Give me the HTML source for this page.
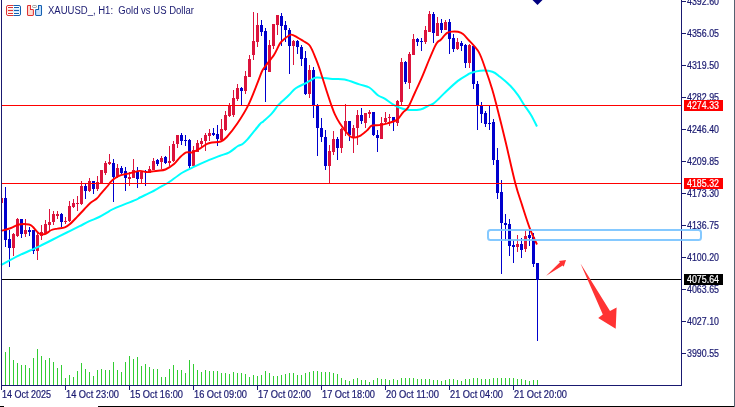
<!DOCTYPE html><html><head><meta charset="utf-8"><style>html,body{margin:0;padding:0;background:#fff;overflow:hidden}svg{display:block;will-change:transform}text{font-family:"Liberation Sans",sans-serif}</style></head><body>
<svg width="735" height="407" viewBox="0 0 735 407">
<rect x="0" y="0" width="735" height="407" fill="#fff"/>
<defs><clipPath id="chartclip"><rect x="2" y="0" width="679" height="385"/></clipPath></defs>
<g fill="#32CD32" shape-rendering="crispEdges"><rect x="5" y="352" width="1" height="33"/><rect x="9" y="347" width="1" height="38"/><rect x="13" y="360" width="1" height="25"/><rect x="17" y="363" width="1" height="22"/><rect x="21" y="365" width="1" height="20"/><rect x="25" y="365" width="1" height="20"/><rect x="29" y="368" width="1" height="17"/><rect x="33" y="358" width="1" height="27"/><rect x="37" y="349" width="1" height="36"/><rect x="41" y="356" width="1" height="29"/><rect x="45" y="360" width="1" height="25"/><rect x="49" y="358" width="1" height="27"/><rect x="53" y="362" width="1" height="23"/><rect x="57" y="368" width="1" height="17"/><rect x="61" y="365" width="1" height="20"/><rect x="65" y="378" width="1" height="7"/><rect x="69" y="375" width="1" height="10"/><rect x="73" y="377" width="1" height="8"/><rect x="77" y="371" width="1" height="14"/><rect x="81" y="363" width="1" height="22"/><rect x="85" y="369" width="1" height="16"/><rect x="89" y="372" width="1" height="13"/><rect x="93" y="376" width="1" height="9"/><rect x="97" y="370" width="1" height="15"/><rect x="101" y="369" width="1" height="16"/><rect x="105" y="370" width="1" height="15"/><rect x="109" y="370" width="1" height="15"/><rect x="113" y="362" width="1" height="23"/><rect x="117" y="370" width="1" height="15"/><rect x="121" y="372" width="1" height="13"/><rect x="125" y="362" width="1" height="23"/><rect x="129" y="356" width="1" height="29"/><rect x="133" y="359" width="1" height="26"/><rect x="137" y="357" width="1" height="28"/><rect x="141" y="366" width="1" height="19"/><rect x="145" y="364" width="1" height="21"/><rect x="149" y="367" width="1" height="18"/><rect x="153" y="369" width="1" height="16"/><rect x="157" y="369" width="1" height="16"/><rect x="161" y="377" width="1" height="8"/><rect x="165" y="377" width="1" height="8"/><rect x="169" y="369" width="1" height="16"/><rect x="173" y="365" width="1" height="20"/><rect x="177" y="370" width="1" height="15"/><rect x="181" y="370" width="1" height="15"/><rect x="185" y="373" width="1" height="12"/><rect x="189" y="360" width="1" height="25"/><rect x="193" y="364" width="1" height="21"/><rect x="197" y="370" width="1" height="15"/><rect x="201" y="372" width="1" height="13"/><rect x="205" y="370" width="1" height="15"/><rect x="209" y="371" width="1" height="14"/><rect x="213" y="371" width="1" height="14"/><rect x="217" y="371" width="1" height="14"/><rect x="221" y="373" width="1" height="12"/><rect x="225" y="373" width="1" height="12"/><rect x="229" y="374" width="1" height="11"/><rect x="233" y="372" width="1" height="13"/><rect x="237" y="373" width="1" height="12"/><rect x="241" y="373" width="1" height="12"/><rect x="245" y="374" width="1" height="11"/><rect x="249" y="377" width="1" height="8"/><rect x="253" y="375" width="1" height="10"/><rect x="257" y="376" width="1" height="9"/><rect x="261" y="375" width="1" height="10"/><rect x="265" y="371" width="1" height="14"/><rect x="269" y="373" width="1" height="12"/><rect x="273" y="376" width="1" height="9"/><rect x="277" y="376" width="1" height="9"/><rect x="281" y="375" width="1" height="10"/><rect x="285" y="374" width="1" height="11"/><rect x="289" y="373" width="1" height="12"/><rect x="293" y="373" width="1" height="12"/><rect x="297" y="375" width="1" height="10"/><rect x="301" y="375" width="1" height="10"/><rect x="305" y="373" width="1" height="12"/><rect x="309" y="372" width="1" height="13"/><rect x="313" y="371" width="1" height="14"/><rect x="317" y="371" width="1" height="14"/><rect x="321" y="372" width="1" height="13"/><rect x="325" y="372" width="1" height="13"/><rect x="329" y="372" width="1" height="13"/><rect x="333" y="373" width="1" height="12"/><rect x="337" y="374" width="1" height="11"/><rect x="341" y="378" width="1" height="7"/><rect x="345" y="380" width="1" height="5"/><rect x="349" y="381" width="1" height="4"/><rect x="353" y="379" width="1" height="6"/><rect x="357" y="378" width="1" height="7"/><rect x="361" y="380" width="1" height="5"/><rect x="365" y="380" width="1" height="5"/><rect x="369" y="382" width="1" height="3"/><rect x="373" y="380" width="1" height="5"/><rect x="377" y="378" width="1" height="7"/><rect x="381" y="379" width="1" height="6"/><rect x="385" y="379" width="1" height="6"/><rect x="389" y="380" width="1" height="5"/><rect x="393" y="379" width="1" height="6"/><rect x="397" y="380" width="1" height="5"/><rect x="401" y="378" width="1" height="7"/><rect x="405" y="378" width="1" height="7"/><rect x="409" y="378" width="1" height="7"/><rect x="413" y="378" width="1" height="7"/><rect x="417" y="379" width="1" height="6"/><rect x="421" y="379" width="1" height="6"/><rect x="425" y="379" width="1" height="6"/><rect x="429" y="379" width="1" height="6"/><rect x="433" y="380" width="1" height="5"/><rect x="437" y="380" width="1" height="5"/><rect x="441" y="381" width="1" height="4"/><rect x="445" y="380" width="1" height="5"/><rect x="449" y="379" width="1" height="6"/><rect x="453" y="379" width="1" height="6"/><rect x="457" y="380" width="1" height="5"/><rect x="461" y="381" width="1" height="4"/><rect x="465" y="379" width="1" height="6"/><rect x="469" y="379" width="1" height="6"/><rect x="473" y="378" width="1" height="7"/><rect x="477" y="378" width="1" height="7"/><rect x="481" y="379" width="1" height="6"/><rect x="485" y="379" width="1" height="6"/><rect x="489" y="379" width="1" height="6"/><rect x="493" y="378" width="1" height="7"/><rect x="497" y="378" width="1" height="7"/><rect x="501" y="378" width="1" height="7"/><rect x="505" y="378" width="1" height="7"/><rect x="509" y="378" width="1" height="7"/><rect x="513" y="378" width="1" height="7"/><rect x="517" y="379" width="1" height="6"/><rect x="521" y="379" width="1" height="6"/><rect x="525" y="380" width="1" height="5"/><rect x="529" y="381" width="1" height="4"/><rect x="533" y="380" width="1" height="5"/><rect x="537" y="380" width="1" height="5"/></g>
<g shape-rendering="crispEdges">
<rect x="2" y="279" width="679" height="1" fill="#000000"/>
</g>
<g shape-rendering="crispEdges" clip-path="url(#chartclip)"><rect x="1" y="195" width="1" height="11" fill="#DC143C"/><rect x="0" y="198" width="3" height="5" fill="#DC143C"/><rect x="5" y="187" width="1" height="60" fill="#0000CD"/><rect x="4" y="198" width="3" height="42" fill="#0000CD"/><rect x="9" y="230" width="1" height="37" fill="#0000CD"/><rect x="8" y="239" width="3" height="9" fill="#0000CD"/><rect x="13" y="233" width="1" height="23" fill="#DC143C"/><rect x="12" y="234" width="3" height="14" fill="#DC143C"/><rect x="17" y="218" width="1" height="19" fill="#DC143C"/><rect x="16" y="219" width="3" height="17" fill="#DC143C"/><rect x="21" y="219" width="1" height="19" fill="#0000CD"/><rect x="20" y="219" width="3" height="15" fill="#0000CD"/><rect x="25" y="219" width="1" height="18" fill="#DC143C"/><rect x="24" y="230" width="3" height="4" fill="#DC143C"/><rect x="29" y="227" width="1" height="9" fill="#0000CD"/><rect x="28" y="230" width="3" height="2" fill="#0000CD"/><rect x="33" y="230" width="1" height="24" fill="#0000CD"/><rect x="32" y="230" width="3" height="21" fill="#0000CD"/><rect x="37" y="233" width="1" height="27" fill="#DC143C"/><rect x="36" y="235" width="3" height="16" fill="#DC143C"/><rect x="41" y="225" width="1" height="15" fill="#DC143C"/><rect x="40" y="232" width="3" height="4" fill="#DC143C"/><rect x="45" y="220" width="1" height="14" fill="#DC143C"/><rect x="44" y="224" width="3" height="9" fill="#DC143C"/><rect x="49" y="209" width="1" height="23" fill="#DC143C"/><rect x="48" y="222" width="3" height="3" fill="#DC143C"/><rect x="53" y="211" width="1" height="14" fill="#DC143C"/><rect x="52" y="214" width="3" height="8" fill="#DC143C"/><rect x="57" y="211" width="1" height="8" fill="#DC143C"/><rect x="56" y="214" width="3" height="2" fill="#DC143C"/><rect x="61" y="213" width="1" height="14" fill="#0000CD"/><rect x="60" y="214" width="3" height="8" fill="#0000CD"/><rect x="65" y="217" width="1" height="7" fill="#DC143C"/><rect x="64" y="221" width="3" height="1" fill="#DC143C"/><rect x="69" y="201" width="1" height="21" fill="#DC143C"/><rect x="68" y="206" width="3" height="15" fill="#DC143C"/><rect x="73" y="199" width="1" height="9" fill="#DC143C"/><rect x="72" y="203" width="3" height="4" fill="#DC143C"/><rect x="77" y="196" width="1" height="15" fill="#DC143C"/><rect x="76" y="203" width="3" height="1" fill="#DC143C"/><rect x="81" y="181" width="1" height="24" fill="#DC143C"/><rect x="80" y="186" width="3" height="18" fill="#DC143C"/><rect x="85" y="184" width="1" height="15" fill="#0000CD"/><rect x="84" y="186" width="3" height="5" fill="#0000CD"/><rect x="89" y="178" width="1" height="14" fill="#DC143C"/><rect x="88" y="181" width="3" height="10" fill="#DC143C"/><rect x="93" y="181" width="1" height="13" fill="#0000CD"/><rect x="92" y="181" width="3" height="8" fill="#0000CD"/><rect x="97" y="176" width="1" height="15" fill="#DC143C"/><rect x="96" y="182" width="3" height="7" fill="#DC143C"/><rect x="101" y="170" width="1" height="13" fill="#DC143C"/><rect x="100" y="170" width="3" height="13" fill="#DC143C"/><rect x="105" y="161" width="1" height="14" fill="#DC143C"/><rect x="104" y="163" width="3" height="10" fill="#DC143C"/><rect x="109" y="154" width="1" height="11" fill="#DC143C"/><rect x="108" y="162" width="3" height="2" fill="#DC143C"/><rect x="113" y="159" width="1" height="43" fill="#0000CD"/><rect x="112" y="163" width="3" height="14" fill="#0000CD"/><rect x="117" y="164" width="1" height="14" fill="#DC143C"/><rect x="116" y="168" width="3" height="9" fill="#DC143C"/><rect x="121" y="166" width="1" height="8" fill="#0000CD"/><rect x="120" y="168" width="3" height="5" fill="#0000CD"/><rect x="125" y="167" width="1" height="24" fill="#0000CD"/><rect x="124" y="171" width="3" height="7" fill="#0000CD"/><rect x="129" y="172" width="1" height="14" fill="#DC143C"/><rect x="128" y="177" width="3" height="2" fill="#DC143C"/><rect x="133" y="159" width="1" height="19" fill="#DC143C"/><rect x="132" y="170" width="3" height="8" fill="#DC143C"/><rect x="137" y="167" width="1" height="21" fill="#0000CD"/><rect x="136" y="172" width="3" height="7" fill="#0000CD"/><rect x="141" y="171" width="1" height="12" fill="#DC143C"/><rect x="140" y="172" width="3" height="7" fill="#DC143C"/><rect x="145" y="170" width="1" height="16" fill="#0000CD"/><rect x="144" y="171" width="3" height="1" fill="#0000CD"/><rect x="149" y="166" width="1" height="7" fill="#DC143C"/><rect x="148" y="169" width="3" height="4" fill="#DC143C"/><rect x="153" y="158" width="1" height="12" fill="#DC143C"/><rect x="152" y="161" width="3" height="9" fill="#DC143C"/><rect x="157" y="159" width="1" height="7" fill="#0000CD"/><rect x="156" y="160" width="3" height="4" fill="#0000CD"/><rect x="161" y="156" width="1" height="13" fill="#DC143C"/><rect x="160" y="158" width="3" height="4" fill="#DC143C"/><rect x="165" y="156" width="1" height="8" fill="#0000CD"/><rect x="164" y="157" width="3" height="6" fill="#0000CD"/><rect x="169" y="146" width="1" height="20" fill="#DC143C"/><rect x="168" y="161" width="3" height="2" fill="#DC143C"/><rect x="173" y="141" width="1" height="21" fill="#DC143C"/><rect x="172" y="144" width="3" height="17" fill="#DC143C"/><rect x="177" y="135" width="1" height="13" fill="#DC143C"/><rect x="176" y="135" width="3" height="9" fill="#DC143C"/><rect x="181" y="133" width="1" height="12" fill="#0000CD"/><rect x="180" y="135" width="3" height="6" fill="#0000CD"/><rect x="185" y="135" width="1" height="11" fill="#0000CD"/><rect x="184" y="140" width="3" height="1" fill="#0000CD"/><rect x="189" y="139" width="1" height="29" fill="#0000CD"/><rect x="188" y="140" width="3" height="26" fill="#0000CD"/><rect x="193" y="146" width="1" height="20" fill="#DC143C"/><rect x="192" y="150" width="3" height="16" fill="#DC143C"/><rect x="197" y="140" width="1" height="12" fill="#DC143C"/><rect x="196" y="143" width="3" height="9" fill="#DC143C"/><rect x="201" y="138" width="1" height="9" fill="#DC143C"/><rect x="200" y="141" width="3" height="3" fill="#DC143C"/><rect x="205" y="133" width="1" height="18" fill="#DC143C"/><rect x="204" y="135" width="3" height="6" fill="#DC143C"/><rect x="209" y="129" width="1" height="12" fill="#DC143C"/><rect x="208" y="133" width="3" height="3" fill="#DC143C"/><rect x="213" y="128" width="1" height="8" fill="#0000CD"/><rect x="212" y="133" width="3" height="2" fill="#0000CD"/><rect x="217" y="125" width="1" height="21" fill="#0000CD"/><rect x="216" y="134" width="3" height="5" fill="#0000CD"/><rect x="221" y="119" width="1" height="22" fill="#DC143C"/><rect x="220" y="129" width="3" height="11" fill="#DC143C"/><rect x="225" y="111" width="1" height="20" fill="#DC143C"/><rect x="224" y="115" width="3" height="15" fill="#DC143C"/><rect x="229" y="103" width="1" height="14" fill="#DC143C"/><rect x="228" y="106" width="3" height="10" fill="#DC143C"/><rect x="233" y="90" width="1" height="27" fill="#DC143C"/><rect x="232" y="98" width="3" height="17" fill="#DC143C"/><rect x="237" y="84" width="1" height="17" fill="#DC143C"/><rect x="236" y="88" width="3" height="11" fill="#DC143C"/><rect x="241" y="87" width="1" height="18" fill="#0000CD"/><rect x="240" y="88" width="3" height="3" fill="#0000CD"/><rect x="245" y="71" width="1" height="23" fill="#DC143C"/><rect x="244" y="76" width="3" height="15" fill="#DC143C"/><rect x="249" y="55" width="1" height="22" fill="#DC143C"/><rect x="248" y="59" width="3" height="18" fill="#DC143C"/><rect x="253" y="12" width="1" height="48" fill="#DC143C"/><rect x="252" y="41" width="3" height="14" fill="#DC143C"/><rect x="257" y="13" width="1" height="34" fill="#DC143C"/><rect x="256" y="25" width="3" height="17" fill="#DC143C"/><rect x="261" y="20" width="1" height="16" fill="#0000CD"/><rect x="260" y="25" width="3" height="7" fill="#0000CD"/><rect x="265" y="28" width="1" height="74" fill="#0000CD"/><rect x="264" y="31" width="3" height="39" fill="#0000CD"/><rect x="269" y="40" width="1" height="32" fill="#DC143C"/><rect x="268" y="45" width="3" height="27" fill="#DC143C"/><rect x="273" y="24" width="1" height="25" fill="#DC143C"/><rect x="272" y="24" width="3" height="22" fill="#DC143C"/><rect x="277" y="15" width="1" height="20" fill="#DC143C"/><rect x="276" y="15" width="3" height="10" fill="#DC143C"/><rect x="281" y="13" width="1" height="33" fill="#0000CD"/><rect x="280" y="16" width="3" height="10" fill="#0000CD"/><rect x="285" y="21" width="1" height="21" fill="#0000CD"/><rect x="284" y="25" width="3" height="5" fill="#0000CD"/><rect x="289" y="28" width="1" height="46" fill="#0000CD"/><rect x="288" y="30" width="3" height="16" fill="#0000CD"/><rect x="293" y="40" width="1" height="25" fill="#DC143C"/><rect x="292" y="41" width="3" height="5" fill="#DC143C"/><rect x="297" y="40" width="1" height="14" fill="#0000CD"/><rect x="296" y="41" width="3" height="6" fill="#0000CD"/><rect x="301" y="45" width="1" height="21" fill="#0000CD"/><rect x="300" y="47" width="3" height="12" fill="#0000CD"/><rect x="305" y="51" width="1" height="44" fill="#0000CD"/><rect x="304" y="58" width="3" height="36" fill="#0000CD"/><rect x="309" y="65" width="1" height="33" fill="#DC143C"/><rect x="308" y="70" width="3" height="24" fill="#DC143C"/><rect x="313" y="67" width="1" height="51" fill="#0000CD"/><rect x="312" y="70" width="3" height="35" fill="#0000CD"/><rect x="317" y="104" width="1" height="52" fill="#0000CD"/><rect x="316" y="105" width="3" height="23" fill="#0000CD"/><rect x="321" y="118" width="1" height="24" fill="#0000CD"/><rect x="320" y="128" width="3" height="9" fill="#0000CD"/><rect x="325" y="130" width="1" height="40" fill="#0000CD"/><rect x="324" y="137" width="3" height="29" fill="#0000CD"/><rect x="329" y="145" width="1" height="38" fill="#DC143C"/><rect x="328" y="151" width="3" height="15" fill="#DC143C"/><rect x="333" y="131" width="1" height="24" fill="#DC143C"/><rect x="332" y="139" width="3" height="13" fill="#DC143C"/><rect x="337" y="137" width="1" height="23" fill="#0000CD"/><rect x="336" y="139" width="3" height="9" fill="#0000CD"/><rect x="341" y="128" width="1" height="25" fill="#DC143C"/><rect x="340" y="129" width="3" height="19" fill="#DC143C"/><rect x="345" y="104" width="1" height="32" fill="#DC143C"/><rect x="344" y="121" width="3" height="10" fill="#DC143C"/><rect x="349" y="121" width="1" height="20" fill="#0000CD"/><rect x="348" y="121" width="3" height="14" fill="#0000CD"/><rect x="353" y="125" width="1" height="28" fill="#DC143C"/><rect x="352" y="128" width="3" height="9" fill="#DC143C"/><rect x="357" y="110" width="1" height="35" fill="#DC143C"/><rect x="356" y="115" width="3" height="13" fill="#DC143C"/><rect x="361" y="108" width="1" height="16" fill="#0000CD"/><rect x="360" y="115" width="3" height="6" fill="#0000CD"/><rect x="365" y="113" width="1" height="15" fill="#DC143C"/><rect x="364" y="113" width="3" height="10" fill="#DC143C"/><rect x="369" y="110" width="1" height="8" fill="#DC143C"/><rect x="368" y="112" width="3" height="2" fill="#DC143C"/><rect x="373" y="112" width="1" height="24" fill="#0000CD"/><rect x="372" y="112" width="3" height="23" fill="#0000CD"/><rect x="377" y="130" width="1" height="22" fill="#0000CD"/><rect x="376" y="135" width="3" height="3" fill="#0000CD"/><rect x="381" y="117" width="1" height="22" fill="#DC143C"/><rect x="380" y="123" width="3" height="16" fill="#DC143C"/><rect x="385" y="112" width="1" height="11" fill="#DC143C"/><rect x="384" y="118" width="3" height="4" fill="#DC143C"/><rect x="389" y="114" width="1" height="12" fill="#DC143C"/><rect x="388" y="117" width="3" height="1" fill="#DC143C"/><rect x="393" y="117" width="1" height="14" fill="#0000CD"/><rect x="392" y="117" width="3" height="4" fill="#0000CD"/><rect x="397" y="100" width="1" height="26" fill="#DC143C"/><rect x="396" y="101" width="3" height="22" fill="#DC143C"/><rect x="401" y="58" width="1" height="47" fill="#DC143C"/><rect x="400" y="62" width="3" height="40" fill="#DC143C"/><rect x="405" y="61" width="1" height="23" fill="#0000CD"/><rect x="404" y="62" width="3" height="20" fill="#0000CD"/><rect x="409" y="52" width="1" height="37" fill="#DC143C"/><rect x="408" y="54" width="3" height="29" fill="#DC143C"/><rect x="413" y="34" width="1" height="21" fill="#DC143C"/><rect x="412" y="39" width="3" height="16" fill="#DC143C"/><rect x="417" y="38" width="1" height="8" fill="#0000CD"/><rect x="416" y="39" width="3" height="3" fill="#0000CD"/><rect x="421" y="38" width="1" height="13" fill="#0000CD"/><rect x="420" y="41" width="3" height="1" fill="#0000CD"/><rect x="425" y="26" width="1" height="18" fill="#DC143C"/><rect x="424" y="30" width="3" height="12" fill="#DC143C"/><rect x="429" y="11" width="1" height="21" fill="#DC143C"/><rect x="428" y="14" width="3" height="18" fill="#DC143C"/><rect x="433" y="12" width="1" height="31" fill="#0000CD"/><rect x="432" y="14" width="3" height="19" fill="#0000CD"/><rect x="437" y="17" width="1" height="19" fill="#DC143C"/><rect x="436" y="23" width="3" height="13" fill="#DC143C"/><rect x="441" y="19" width="1" height="14" fill="#0000CD"/><rect x="440" y="23" width="3" height="7" fill="#0000CD"/><rect x="445" y="20" width="1" height="10" fill="#DC143C"/><rect x="444" y="22" width="3" height="8" fill="#DC143C"/><rect x="449" y="19" width="1" height="35" fill="#0000CD"/><rect x="448" y="22" width="3" height="17" fill="#0000CD"/><rect x="453" y="34" width="1" height="18" fill="#0000CD"/><rect x="452" y="38" width="3" height="11" fill="#0000CD"/><rect x="457" y="38" width="1" height="12" fill="#DC143C"/><rect x="456" y="42" width="3" height="7" fill="#DC143C"/><rect x="461" y="41" width="1" height="10" fill="#0000CD"/><rect x="460" y="43" width="3" height="3" fill="#0000CD"/><rect x="465" y="44" width="1" height="24" fill="#0000CD"/><rect x="464" y="45" width="3" height="18" fill="#0000CD"/><rect x="469" y="44" width="1" height="24" fill="#DC143C"/><rect x="468" y="45" width="3" height="18" fill="#DC143C"/><rect x="473" y="45" width="1" height="44" fill="#0000CD"/><rect x="472" y="46" width="3" height="38" fill="#0000CD"/><rect x="477" y="81" width="1" height="49" fill="#0000CD"/><rect x="476" y="84" width="3" height="21" fill="#0000CD"/><rect x="481" y="102" width="1" height="21" fill="#0000CD"/><rect x="480" y="106" width="3" height="8" fill="#0000CD"/><rect x="485" y="111" width="1" height="16" fill="#0000CD"/><rect x="484" y="113" width="3" height="11" fill="#0000CD"/><rect x="489" y="106" width="1" height="24" fill="#0000CD"/><rect x="488" y="123" width="3" height="1" fill="#0000CD"/><rect x="493" y="119" width="1" height="46" fill="#0000CD"/><rect x="492" y="122" width="3" height="38" fill="#0000CD"/><rect x="497" y="148" width="1" height="51" fill="#0000CD"/><rect x="496" y="160" width="3" height="33" fill="#0000CD"/><rect x="501" y="180" width="1" height="94" fill="#0000CD"/><rect x="500" y="192" width="3" height="31" fill="#0000CD"/><rect x="505" y="214" width="1" height="27" fill="#0000CD"/><rect x="504" y="223" width="3" height="2" fill="#0000CD"/><rect x="509" y="219" width="1" height="37" fill="#0000CD"/><rect x="508" y="224" width="3" height="22" fill="#0000CD"/><rect x="513" y="240" width="1" height="23" fill="#0000CD"/><rect x="512" y="245" width="3" height="2" fill="#0000CD"/><rect x="517" y="235" width="1" height="17" fill="#DC143C"/><rect x="516" y="244" width="3" height="3" fill="#DC143C"/><rect x="521" y="238" width="1" height="20" fill="#0000CD"/><rect x="520" y="244" width="3" height="6" fill="#0000CD"/><rect x="525" y="230" width="1" height="22" fill="#DC143C"/><rect x="524" y="236" width="3" height="13" fill="#DC143C"/><rect x="529" y="229" width="1" height="17" fill="#0000CD"/><rect x="528" y="235" width="3" height="3" fill="#0000CD"/><rect x="533" y="233" width="1" height="34" fill="#0000CD"/><rect x="532" y="237" width="3" height="27" fill="#0000CD"/><rect x="537" y="263" width="1" height="78" fill="#0000CD"/><rect x="536" y="263" width="3" height="17" fill="#0000CD"/></g>
<path d="M1.00,265.00 C4.12,263.35 13.30,258.22 19.70,255.10 C26.10,251.98 32.85,249.42 39.40,246.30 C45.95,243.18 53.95,238.93 59.00,236.40 C64.05,233.87 66.27,232.80 69.70,231.10 C73.13,229.40 76.32,227.85 79.60,226.20 C82.88,224.55 86.13,222.73 89.40,221.20 C92.67,219.67 95.93,218.63 99.20,217.00 C102.47,215.37 106.43,212.85 109.00,211.40 C111.57,209.95 110.15,210.23 114.60,208.30 C119.05,206.37 131.47,201.60 135.70,199.80 C139.93,198.00 137.33,198.82 140.00,197.50 C142.67,196.18 148.70,193.43 151.70,191.90 C154.70,190.37 155.33,189.78 158.00,188.30 C160.67,186.82 165.65,184.17 167.70,183.00 C169.75,181.83 167.82,183.05 170.30,181.30 C172.78,179.55 178.50,174.98 182.60,172.50 C186.70,170.02 190.82,168.33 194.90,166.40 C198.98,164.47 203.02,162.63 207.10,160.90 C211.18,159.17 215.70,157.43 219.40,156.00 C223.10,154.57 226.22,153.97 229.30,152.30 C232.38,150.63 235.72,147.37 237.90,146.00 C240.08,144.63 240.77,145.23 242.40,144.10 C244.03,142.97 244.83,142.47 247.70,139.20 C250.57,135.93 257.00,127.47 259.60,124.50 C262.20,121.53 261.25,123.25 263.30,121.40 C265.35,119.55 269.45,116.07 271.90,113.40 C274.35,110.73 276.33,107.37 278.00,105.40 C279.67,103.43 280.07,103.33 281.90,101.60 C283.73,99.87 286.95,97.02 289.00,95.00 C291.05,92.98 292.70,90.85 294.20,89.50 C295.70,88.15 296.37,87.82 298.00,86.90 C299.63,85.98 301.95,85.03 304.00,84.00 C306.05,82.97 308.23,81.77 310.30,80.70 C312.37,79.63 312.72,77.90 316.40,77.60 C320.08,77.30 327.68,78.58 332.40,78.90 C337.12,79.22 340.20,78.58 344.70,79.50 C349.20,80.42 355.30,83.07 359.40,84.40 C363.50,85.73 366.22,85.70 369.30,87.50 C372.38,89.30 375.33,93.33 377.90,95.20 C380.47,97.07 381.92,97.00 384.70,98.70 C387.48,100.40 391.12,103.60 394.60,105.40 C398.08,107.20 401.30,108.82 405.60,109.50 C409.90,110.18 416.50,110.18 420.40,109.50 C424.30,108.82 426.85,106.38 429.00,105.40 C431.15,104.42 431.67,104.72 433.30,103.60 C434.93,102.48 436.75,100.63 438.80,98.70 C440.85,96.77 442.42,94.97 445.60,92.00 C448.78,89.03 454.22,83.78 457.90,80.90 C461.58,78.02 465.63,75.98 467.70,74.70 C469.77,73.42 468.23,73.87 470.30,73.20 C472.37,72.53 476.42,70.95 480.10,70.70 C483.78,70.45 489.08,70.68 492.40,71.70 C495.72,72.72 497.02,74.45 500.00,76.80 C502.98,79.15 507.30,82.73 510.30,85.80 C513.30,88.87 515.72,92.05 518.00,95.20 C520.28,98.35 521.83,101.40 524.00,104.70 C526.17,108.00 528.83,111.37 531.00,115.00 C533.17,118.63 536.00,124.58 537.00,126.50" fill="none" stroke="#00FFFF" stroke-width="2.0" stroke-linejoin="round"/>
<path d="M1.00,231.00 C2.67,230.50 8.00,229.08 11.00,228.00 C14.00,226.92 16.00,225.08 19.00,224.50 C22.00,223.92 26.67,224.08 29.00,224.50 C31.33,224.92 31.33,225.50 33.00,227.00 C34.67,228.50 37.00,232.33 39.00,233.50 C41.00,234.67 42.92,234.58 45.00,234.00 C47.08,233.42 49.42,230.90 51.50,230.00 C53.58,229.10 55.28,229.03 57.50,228.60 C59.72,228.17 62.77,228.12 64.80,227.40 C66.83,226.68 67.65,226.05 69.70,224.30 C71.75,222.55 74.63,219.45 77.10,216.90 C79.57,214.35 82.25,211.35 84.50,209.00 C86.75,206.65 88.55,204.55 90.60,202.80 C92.65,201.05 95.15,199.93 96.80,198.50 C98.45,197.07 98.57,196.45 100.50,194.20 C102.43,191.95 106.82,186.93 108.40,185.00 C109.98,183.07 108.92,183.72 110.00,182.60 C111.08,181.48 113.07,179.53 114.90,178.30 C116.73,177.07 118.55,176.03 121.00,175.20 C123.45,174.37 126.53,174.02 129.60,173.30 C132.67,172.58 136.53,171.10 139.40,170.90 C142.27,170.70 144.75,172.00 146.80,172.10 C148.85,172.20 149.83,171.73 151.70,171.50 C153.57,171.27 155.72,171.03 158.00,170.70 C160.28,170.37 162.73,170.62 165.40,169.50 C168.07,168.38 171.55,166.05 174.00,164.00 C176.45,161.95 178.05,159.13 180.10,157.20 C182.15,155.27 184.25,153.20 186.30,152.40 C188.35,151.60 190.15,153.03 192.40,152.40 C194.65,151.77 197.35,150.03 199.80,148.60 C202.25,147.17 205.07,144.82 207.10,143.80 C209.13,142.78 209.73,142.88 212.00,142.50 C214.27,142.12 218.23,142.42 220.70,141.50 C223.17,140.58 224.03,140.00 226.80,137.00 C229.57,134.00 233.72,128.82 237.30,123.50 C240.88,118.18 245.02,111.65 248.30,105.10 C251.58,98.55 254.73,89.80 257.00,84.20 C259.27,78.60 260.48,74.53 261.90,71.50 C263.32,68.47 263.47,68.80 265.50,66.00 C267.53,63.20 271.68,58.47 274.10,54.70 C276.52,50.93 278.20,46.10 280.00,43.40 C281.80,40.70 283.07,39.97 284.90,38.50 C286.73,37.03 288.95,34.80 291.00,34.60 C293.05,34.40 295.15,36.23 297.20,37.30 C299.25,38.37 301.35,39.78 303.30,41.00 C305.25,42.22 307.45,43.17 308.90,44.60 C310.35,46.03 310.88,47.33 312.00,49.60 C313.12,51.87 314.38,55.13 315.60,58.20 C316.82,61.27 318.20,64.87 319.30,68.00 C320.40,71.13 320.97,73.13 322.20,77.00 C323.43,80.87 325.20,86.58 326.70,91.20 C328.20,95.82 329.83,100.83 331.20,104.70 C332.57,108.57 333.47,111.30 334.90,114.40 C336.33,117.50 337.77,120.18 339.80,123.30 C341.83,126.42 345.07,130.75 347.10,133.10 C349.13,135.45 349.95,136.88 352.00,137.40 C354.05,137.92 356.93,137.33 359.40,136.20 C361.87,135.07 364.75,132.35 366.80,130.60 C368.85,128.85 369.65,126.62 371.70,125.70 C373.75,124.78 376.47,125.50 379.10,125.10 C381.73,124.70 384.52,124.17 387.50,123.30 C390.48,122.43 394.43,121.68 397.00,119.90 C399.57,118.12 401.03,114.70 402.90,112.60 C404.77,110.50 406.18,110.65 408.20,107.30 C410.22,103.95 412.68,97.58 415.00,92.50 C417.32,87.42 419.77,82.22 422.10,76.80 C424.43,71.38 426.90,65.00 429.00,60.00 C431.10,55.00 433.32,49.75 434.70,46.80 C436.08,43.85 436.28,43.48 437.30,42.30 C438.32,41.12 439.60,40.85 440.80,39.70 C442.00,38.55 443.37,36.58 444.50,35.40 C445.63,34.22 446.35,33.23 447.60,32.60 C448.85,31.97 450.27,31.73 452.00,31.60 C453.73,31.47 456.17,31.40 458.00,31.80 C459.83,32.20 461.33,32.75 463.00,34.00 C464.67,35.25 465.37,36.28 468.00,39.30 C470.63,42.32 475.77,46.77 478.80,52.10 C481.83,57.43 483.98,65.15 486.20,71.30 C488.42,77.45 490.38,83.35 492.10,89.00 C493.82,94.65 495.02,99.53 496.50,105.20 C497.98,110.87 499.42,116.62 501.00,123.00 C502.58,129.38 503.62,133.47 506.00,143.50 C508.38,153.53 512.63,172.97 515.30,183.20 C517.97,193.43 519.53,197.23 522.00,204.90 C524.47,212.57 527.60,222.60 530.10,229.20 C532.60,235.80 535.85,241.95 537.00,244.50" fill="none" stroke="#FF0000" stroke-width="1.9" stroke-linejoin="round"/>
<g shape-rendering="crispEdges"><rect x="2" y="105" width="679" height="1" fill="#FF0000"/><rect x="2" y="183" width="679" height="1" fill="#FF0000"/></g>
<polygon points="546.2,275.7 560,262.3 558.9,260.9 566,260.1 563.7,266.8 562.7,265.4" fill="#FF3333"/>
<polygon points="580.5,263.5 610,311 616.6,307.6 615.7,328.7 598.2,317.9 602.8,314.5" fill="#FF3333"/>
<polygon points="532.5,0 542.5,0 537.5,5" fill="#000080"/>
<g shape-rendering="crispEdges" fill="#191970">
<rect x="1" y="0" width="1" height="386"/>
<rect x="1" y="385" width="681" height="1"/>
<rect x="681" y="0" width="1" height="386"/>
<rect x="681" y="1" width="5" height="1"/>
<rect x="681" y="33" width="5" height="1"/>
<rect x="681" y="65" width="5" height="1"/>
<rect x="681" y="97" width="5" height="1"/>
<rect x="681" y="129" width="5" height="1"/>
<rect x="681" y="161" width="5" height="1"/>
<rect x="681" y="193" width="5" height="1"/>
<rect x="681" y="225" width="5" height="1"/>
<rect x="681" y="257" width="5" height="1"/>
<rect x="681" y="289" width="5" height="1"/>
<rect x="681" y="321" width="5" height="1"/>
<rect x="681" y="353" width="5" height="1"/>
<rect x="1" y="385" width="1" height="5"/>
<rect x="65" y="385" width="1" height="5"/>
<rect x="129" y="385" width="1" height="5"/>
<rect x="193" y="385" width="1" height="5"/>
<rect x="257" y="385" width="1" height="5"/>
<rect x="321" y="385" width="1" height="5"/>
<rect x="385" y="385" width="1" height="5"/>
<rect x="449" y="385" width="1" height="5"/>
<rect x="513" y="385" width="1" height="5"/>
</g>
<g fill="#191970" font-size="10" stroke="#191970" stroke-width="0.2"><text x="687" y="4.7" textLength="32" lengthAdjust="spacingAndGlyphs">4392.60</text><text x="687" y="36.7" textLength="32" lengthAdjust="spacingAndGlyphs">4356.05</text><text x="687" y="68.7" textLength="32" lengthAdjust="spacingAndGlyphs">4319.50</text><text x="687" y="100.7" textLength="32" lengthAdjust="spacingAndGlyphs">4282.95</text><text x="687" y="132.7" textLength="32" lengthAdjust="spacingAndGlyphs">4246.40</text><text x="687" y="164.7" textLength="32" lengthAdjust="spacingAndGlyphs">4209.85</text><text x="687" y="196.7" textLength="32" lengthAdjust="spacingAndGlyphs">4173.30</text><text x="687" y="228.7" textLength="32" lengthAdjust="spacingAndGlyphs">4136.75</text><text x="687" y="260.7" textLength="32" lengthAdjust="spacingAndGlyphs">4100.20</text><text x="687" y="292.7" textLength="32" lengthAdjust="spacingAndGlyphs">4063.65</text><text x="687" y="324.7" textLength="32" lengthAdjust="spacingAndGlyphs">4027.10</text><text x="687" y="356.7" textLength="32" lengthAdjust="spacingAndGlyphs">3990.55</text></g>
<rect x="684" y="100" width="39" height="11" fill="#FF0000" shape-rendering="crispEdges"/>
<text x="687" y="108.7" fill="#fff" font-size="10" stroke="#fff" stroke-width="0.2" textLength="32" lengthAdjust="spacingAndGlyphs">4274.33</text>
<rect x="684" y="178" width="39" height="11" fill="#FF0000" shape-rendering="crispEdges"/>
<text x="687" y="186.7" fill="#fff" font-size="10" stroke="#fff" stroke-width="0.2" textLength="32" lengthAdjust="spacingAndGlyphs">4185.32</text>
<rect x="684" y="274" width="39" height="11" fill="#000000" shape-rendering="crispEdges"/>
<text x="687" y="282.7" fill="#fff" font-size="10" stroke="#fff" stroke-width="0.2" textLength="32" lengthAdjust="spacingAndGlyphs">4075.64</text>
<g fill="#191970" font-size="10" stroke="#191970" stroke-width="0.2"><text x="2" y="398" textLength="49" lengthAdjust="spacingAndGlyphs">14 Oct 2025</text><text x="66" y="398" textLength="53" lengthAdjust="spacingAndGlyphs">14 Oct 23:00</text><text x="130" y="398" textLength="53" lengthAdjust="spacingAndGlyphs">15 Oct 16:00</text><text x="194" y="398" textLength="53" lengthAdjust="spacingAndGlyphs">16 Oct 09:00</text><text x="258" y="398" textLength="53" lengthAdjust="spacingAndGlyphs">17 Oct 02:00</text><text x="322" y="398" textLength="53" lengthAdjust="spacingAndGlyphs">17 Oct 18:00</text><text x="386" y="398" textLength="53" lengthAdjust="spacingAndGlyphs">20 Oct 11:00</text><text x="450" y="398" textLength="53" lengthAdjust="spacingAndGlyphs">21 Oct 04:00</text><text x="514" y="398" textLength="53" lengthAdjust="spacingAndGlyphs">21 Oct 20:00</text></g>
<rect x="488" y="230" width="213" height="10" rx="2.5" ry="2.5" fill="none" stroke="#78C3FF" stroke-opacity="0.9" stroke-width="2"/>
<text xml:space="preserve" x="48" y="14" fill="#191970" font-size="10" textLength="146" lengthAdjust="spacingAndGlyphs">XAUUSD_, H1:  Gold vs US Dollar</text>
<g fill="none" stroke-width="1">
<rect x="7" y="8.5" width="6" height="4" fill="#FFE4DC" stroke="none"/>
<rect x="13" y="8.5" width="7" height="4" fill="#D2EBFF" stroke="none"/>
<path d="M13.5,5.5 H8 Q6.5,5.5 6.5,7 V14 Q6.5,15.5 8,15.5 H13.5" stroke="#DD3333"/>
<path d="M13.5,5.5 H19 Q20.5,5.5 20.5,7 V14 Q20.5,15.5 19,15.5 H13.5" stroke="#1560B0"/>
</g>
<g shape-rendering="crispEdges">
<rect x="8" y="7" width="5" height="1" fill="#DD3333"/><rect x="8" y="10" width="5" height="1" fill="#DD3333"/><rect x="8" y="13" width="5" height="1" fill="#DD3333"/>
<rect x="14" y="7" width="5" height="1" fill="#1560B0"/><rect x="14" y="10" width="5" height="1" fill="#1560B0"/><rect x="14" y="13" width="5" height="1" fill="#1560B0"/>
</g>
<path d="M27.5,6.3 Q27.5,5.5 28.3,5.5 H30.5 V9.5 H32.6 Q33.4,9.5 33.4,10.3 V14.6 Q33.4,15.4 32.6,15.4 H28.3 Q27.5,15.4 27.5,14.6 Z" fill="#FFDCD2" stroke="#DD3333" stroke-width="1.05"/>
<path d="M41.5,6.3 Q41.5,5.5 40.7,5.5 H38.5 V9.5 H36.4 Q35.6,9.5 35.6,10.3 V14.6 Q35.6,15.4 36.4,15.4 H40.7 Q41.5,15.4 41.5,14.6 Z" fill="#C6E2FF" stroke="#1560B0" stroke-width="1.05"/>
<path d="M33.2,5.5 H35.8 Q36.5,5.5 36.5,6.5 Q36.5,7.5 35.8,7.5 H33.2 Q32.5,7.5 32.5,6.5 Q32.5,5.5 33.2,5.5 Z" fill="#fff" stroke="#A0A0A0" stroke-width="1"/>
<rect x="734" y="0" width="1" height="407" fill="#556070" shape-rendering="crispEdges"/>
<rect x="0" y="406" width="4" height="1" fill="#000" shape-rendering="crispEdges"/>
<rect x="98" y="406" width="636" height="1" fill="#000" shape-rendering="crispEdges"/>
</svg></body></html>
